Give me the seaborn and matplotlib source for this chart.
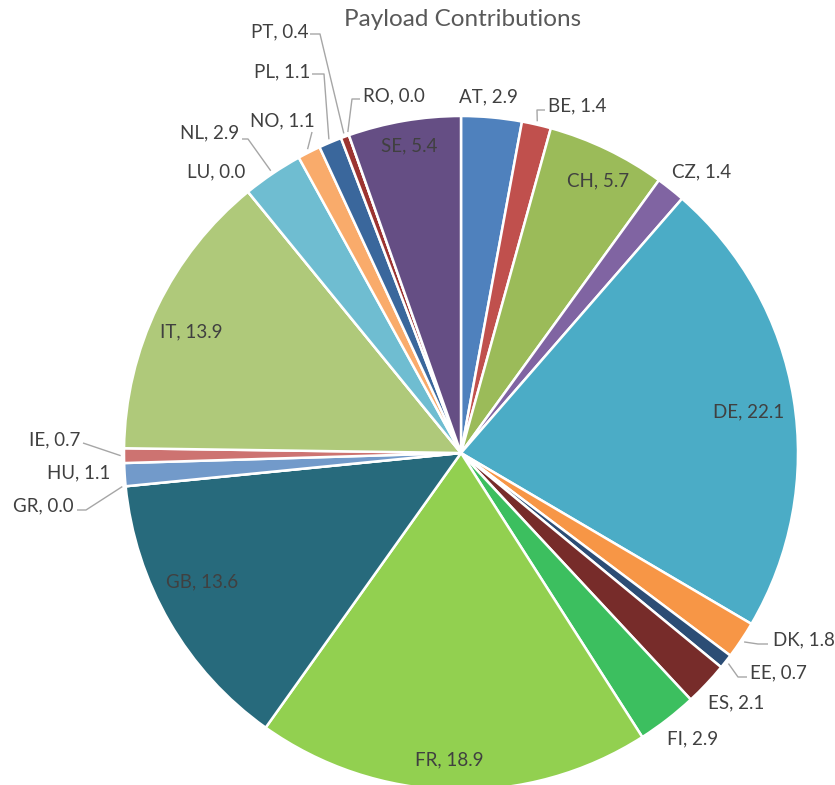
import numpy as np
import matplotlib
matplotlib.use("Agg")
import matplotlib.pyplot as plt
import seaborn as sns

# ---------------- data ----------------
countries = ["AT", "BE", "CH", "CZ", "DE", "DK", "EE", "ES", "FI", "FR", "GB",
             "GR", "HU", "IE", "IT", "LU", "NL", "NO", "PL", "PT", "RO", "SE"]
shares = [2.9, 1.4, 5.7, 1.4, 22.1, 1.8, 0.7, 2.1, 2.9, 18.9, 13.6,
          0.0, 1.1, 0.7, 13.9, 0.0, 2.9, 1.1, 1.1, 0.4, 0.0, 5.4]
slice_colors = ["#4F81BD", "#C0504D", "#9BBB59", "#8064A2", "#4BACC6", "#F79646",
                "#2C4D75", "#772C2A", "#3CBF5F", "#92D050", "#276A7C", "#B65708",
                "#729ACA", "#CD7371", "#AFC97A", "#A092B7", "#6FBDD1", "#F9AB6B",
                "#3A679C", "#9C3431", "#7E9C4A", "#654E84"]
title = "Payload Contributions"

# ---------------- layout (pixels of the 835x785 canvas) ----------------
W, H = 835, 785
CX, CY, R = 461, 453, 337

# label anchor (x, y), horizontal alignment, leader-line end (None = no line), elbow px
label_layout = {
    "AT": ((488, 97), "center", None, 0),
    "BE": ((548, 106), "left", (545, 110), 8),
    "CH": ((598, 181), "center", None, 0),
    "CZ": ((702, 172), "center", None, 0),
    "DE": ((749, 412), "center", None, 0),
    "DK": ((773, 640), "left", (768, 644), 10),
    "EE": ((750, 673), "left", (747, 677), 9),
    "ES": ((736, 703), "center", None, 0),
    "FI": ((693, 739), "center", None, 0),
    "FR": ((449, 760), "center", None, 0),
    "GB": ((202, 582), "center", None, 0),
    "GR": ((74, 506), "right", (77, 510), 9),
    "HU": ((79, 473), "center", None, 0),
    "IE": ((80, 440), "right", (83, 443), 0),
    "IT": ((191, 332), "center", None, 0),
    "LU": ((216, 172), "center", None, 0),
    "NL": ((239, 133), "right", (242, 139), 6),
    "NO": ((282, 121), "center", (312, 132), 0),
    "PL": ((310, 72), "right", (312, 74), 12),
    "PT": ((308, 32), "right", (310, 34), 10),
    "RO": ((363, 96), "left", (360, 99), 8),
    "SE": ((409, 146), "center", None, 0),
}


def to_data(px, py):
    return (px - CX) / R, (CY - py) / R


sns.set_theme(style="white")
plt.rcParams['font.family'] = ['Lato', 'DejaVu Sans']

fig = plt.figure(figsize=(W / 100, H / 100), dpi=100)
ax = fig.add_axes([0, 0, 1, 1])

wedges, _ = ax.pie(shares, colors=slice_colors, startangle=90, counterclock=False,
                   radius=1.0, center=(0, 0), normalize=True,
                   wedgeprops=dict(edgecolor="white", linewidth=1.8))

ax.set_xlim(-CX / R, (W - CX) / R)
ax.set_ylim((CY - H) / R, CY / R)
ax.set_aspect("auto")
ax.axis("off")

text_color = "#404040"
line_color = "#A6A6A6"

for w, name, val in zip(wedges, countries, shares):
    (lx, ly), ha, end, elbow = label_layout[name]
    tx, ty = to_data(lx, ly)
    ax.text(tx, ty, f"{name}, {val:.1f}", ha=ha, va="center",
            fontsize=13.5, color=text_color)
    if end is not None:
        mid = np.deg2rad((w.theta1 + w.theta2) / 2)
        ex, ey = np.cos(mid) * 1.01, np.sin(mid) * 1.01
        endx, endy = to_data(*end)
        xs, ys = [ex], [ey]
        if elbow:
            direction = -1 if ha == "left" else 1
            elx, ely = to_data(end[0] + direction * elbow, end[1])
            xs.append(elx)
            ys.append(ely)
        xs.append(endx)
        ys.append(endy)
        ax.plot(xs, ys, color=line_color, linewidth=1.0, solid_capstyle="butt")

ttx, tty = to_data(463, 20)
ax.text(ttx, tty, title, ha="center", va="center", fontsize=17.5, color="#595959")

fig.savefig("out.png", dpi=100)
